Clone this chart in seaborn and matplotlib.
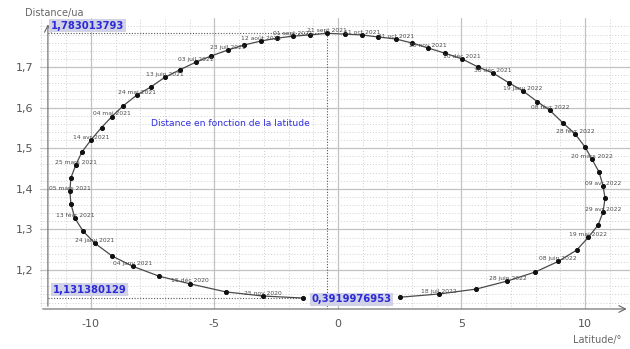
import matplotlib
matplotlib.use("Agg")
import matplotlib.pyplot as plt
import seaborn as sns
import pandas as pd
import numpy as np

# ---- data ----
latitude = [-1.42, -3.04, -4.53, -5.99, -7.25, -8.30, -9.13, -9.84, -10.32, -10.65,
            -10.81, -10.85, -10.81, -10.61, -10.36, -10.00, -9.57, -9.15, -8.70, -8.14,
            -7.57, -7.00, -6.40, -5.75, -5.14, -4.45, -3.81, -3.12, -2.47, -1.82,
            -1.13, -0.45, 0.28, 0.97, 1.62, 2.35, 3.00, 3.64, 4.33, 5.02,
            5.67, 6.28, 6.92, 7.49, 8.06, 8.58, 9.11, 9.60, 10.00, 10.28,
            10.57, 10.73, 10.81, 10.73, 10.53, 10.14, 9.66, 8.91, 7.98, 6.86,
            5.59, 4.09, 2.51]
distance = [1.131, 1.136, 1.146, 1.166, 1.185, 1.209, 1.234, 1.266, 1.296, 1.328,
            1.363, 1.395, 1.427, 1.459, 1.491, 1.520, 1.551, 1.578, 1.604, 1.631,
            1.651, 1.675, 1.693, 1.712, 1.727, 1.742, 1.754, 1.764, 1.771, 1.776,
            1.779, 1.783, 1.781, 1.779, 1.774, 1.769, 1.759, 1.747, 1.734, 1.720,
            1.700, 1.685, 1.661, 1.641, 1.615, 1.593, 1.562, 1.535, 1.503, 1.473,
            1.441, 1.407, 1.377, 1.343, 1.311, 1.281, 1.249, 1.221, 1.195, 1.173,
            1.153, 1.141, 1.133]
# labels on every second point (2nd, 4th, ...)
date_labels = ["25 nov 2020", "15 déc 2020", "04 janv 2021", "24 janv 2021", "13 févr 2021",
               "05 mars 2021", "25 mars 2021", "14 avr 2021", "04 mai 2021", "24 mai 2021",
               "13 juin 2021", "03 juil 2021", "23 juil 2021", "12 août 2021", "01 sept 2021",
               "21 sept 2021", "11 oct 2021", "31 oct 2021", "20 nov 2021", "10 déc 2021",
               "30 déc 2021", "19 janv 2022", "08 févr 2022", "28 févr 2022", "20 mars 2022",
               "09 avr 2022", "29 avr 2022", "19 mai 2022", "08 juin 2022", "28 juin 2022",
               "18 juil 2022"]
x_ticks = [-10, -5, 0, 5, 10]
x_tick_labels = ["-10", "-5", "0", "5", "10"]
y_ticks = [1.2, 1.3, 1.4, 1.5, 1.6, 1.7]
y_tick_labels = ["1,2", "1,3", "1,4", "1,5", "1,6", "1,7"]
max_dist_label = "1,783013793"
min_dist_label = "1,131380129"
lat_label = "0,3919976953"
title_text = "Distance en fonction de la latitude"

df = pd.DataFrame({"lat": latitude, "dist": distance})

sns.set_theme(style="white")
plt.rcParams["font.family"] = ["DejaVu Sans"]

fig = plt.figure(figsize=(6.3, 3.49), dpi=100)
ax = fig.add_axes([40 / 630, 40 / 349, 590 / 630, 291 / 349])
X0, X1 = -12.06, 11.82
Y0, Y1 = 1.104, 1.8207
ax.set_xlim(X0, X1)
ax.set_ylim(Y0, Y1)

# grid
for v in np.arange(-12, 12, 1):
    ax.axvline(v, color="#cfcfcf", lw=0.7, ls=(0, (1, 2)), zorder=0)
for v in np.arange(1.12, 1.82, 0.02):
    ax.axhline(v, color="#cfcfcf", lw=0.7, ls=(0, (1, 2)), zorder=0)
for v in x_ticks:
    ax.axvline(v, color="#c2c2c2", lw=0.9, zorder=0.5)
for v in y_ticks:
    ax.axhline(v, color="#c2c2c2", lw=0.9, zorder=0.5)

for s in ax.spines.values():
    s.set_visible(False)

ax.set_xticks(x_ticks)
ax.set_xticklabels(x_tick_labels)
ax.set_yticks(y_ticks)
ax.set_yticklabels(y_tick_labels)
ax.tick_params(axis="both", length=0, labelsize=8, labelcolor="#555555")
ax.tick_params(axis="x", pad=7)
ax.tick_params(axis="y", pad=5)

# axes with arrows
yaxis_x = -11.74
ax.annotate("", xy=(yaxis_x, 1.812), xytext=(yaxis_x, Y0),
            arrowprops=dict(arrowstyle="->", color="#666666", lw=0.8),
            annotation_clip=False)
ax.annotate("", xy=(11.8, Y0), xytext=(X0, Y0),
            arrowprops=dict(arrowstyle="->", color="#666666", lw=0.8),
            annotation_clip=False)

# helper dotted lines
imax = int(np.argmax(distance))
imin = int(np.argmin(distance))
ax.plot([yaxis_x, latitude[imax]], [distance[imax], distance[imax]],
        color="#555555", lw=0.8, ls=(0, (1, 1.5)), zorder=2)
ax.plot([latitude[imax], latitude[imax]], [distance[imax], Y0],
        color="#555555", lw=0.8, ls=(0, (1, 1.5)), zorder=2)
ax.plot([yaxis_x, latitude[imin]], [distance[imin], distance[imin]],
        color="#555555", lw=0.8, ls=(0, (1, 1.5)), zorder=2)

# curve
sns.lineplot(data=df, x="lat", y="dist", sort=False, estimator=None, ax=ax,
             color="#4a4a4a", lw=0.9, marker="o", markersize=2.9,
             markerfacecolor="#111111", markeredgecolor="#111111", zorder=3)
ax.set_xlabel("")
ax.set_ylabel("")

for lab, xx, yy in zip(date_labels, latitude[1::2], distance[1::2]):
    ax.text(xx, yy + 0.007, lab, fontsize=4.3, color="#4a4a4a",
            ha="center", va="center", zorder=4)

# value boxes
box = dict(facecolor="#d2d2e6", edgecolor="none", boxstyle="square,pad=0.15")
ax.text(-11.62, 1.801, max_dist_label, fontsize=7.2, fontweight="bold",
        color="#2a2ad8", ha="left", va="center", bbox=box, zorder=5)
ax.text(-11.54, 1.152, min_dist_label, fontsize=7.2, fontweight="bold",
        color="#2a2ad8", ha="left", va="center", bbox=box, zorder=5)
ax.text(-1.09, 1.1286, lat_label, fontsize=7.2, fontweight="bold",
        color="#2a2ad8", ha="left", va="center", bbox=box, zorder=5)

ax.text(-7.55, 1.562, title_text, fontsize=6.6, color="#3030e0",
        ha="left", va="center", zorder=5)

fig.text(25 / 630, 1 - 13 / 349, "Distance/ua", fontsize=7, color="#666666",
         ha="left", va="center")
fig.text(573 / 630, 1 - 340 / 349, "Latitude/°", fontsize=7, color="#666666",
         ha="left", va="center")

fig.savefig("out.png", dpi=100)
